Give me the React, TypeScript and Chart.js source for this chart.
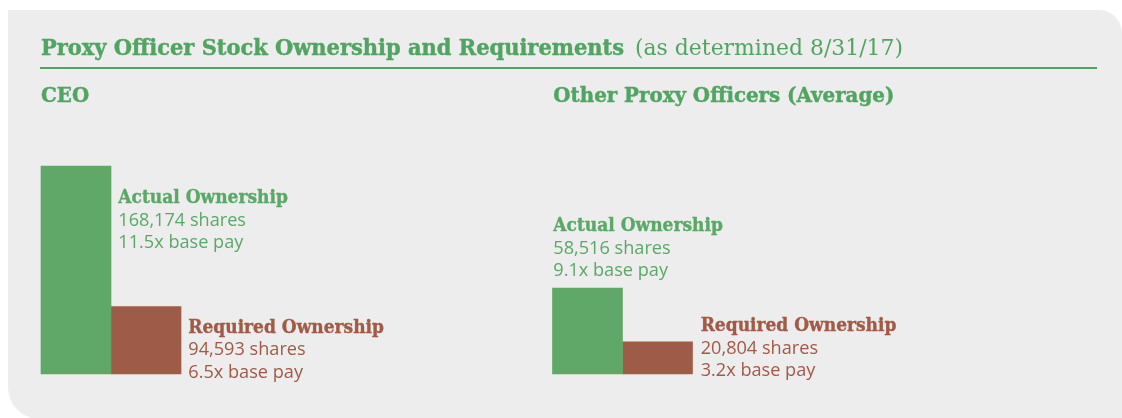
import React, { useEffect, useRef } from "react";
import { Chart, registerables } from "chart.js";

Chart.register(...registerables);

// ---- data ----
const titleBold = "Proxy Officer Stock Ownership and Requirements";
const titleNote = "(as determined 8/31/17)";
const groups = ["CEO", "Other Proxy Officers (Average)"];
const seriesNames = ["Actual Ownership", "Required Ownership"];
const actualShares = [168174, 58516];
const requiredShares = [94593, 20804];
const actualPayMultiple = ["11.5", "9.1"];
const requiredPayMultiple = ["6.5", "3.2"];
// drawn bar heights, relative to the CEO "Actual" bar (=100), as measured on the picture
const actualBarHeight = [100, 41.3];
const requiredBarHeight = [32.4, 15.5];

// ---- styles ----
const GREEN = "#60a867";
const BROWN = "#9e5b47";
const TITLE_GREEN = "#52a462";
const LABEL_GREEN = "#5aa866";
const LABEL_BROWN = "#a05a45";
const PANEL = "#ededed";
const SERIF = '"DejaVu Serif", serif';
const SANS = '"Open Sans", "Noto Sans", sans-serif';

function drawFit(
  ctx: CanvasRenderingContext2D,
  text: string,
  x: number,
  y: number,
  font: string,
  color: string,
  sx: number,
  embolden = 0
) {
  ctx.save();
  ctx.font = font;
  ctx.fillStyle = color;
  ctx.strokeStyle = color;
  ctx.textAlign = "left";
  ctx.textBaseline = "alphabetic";
  ctx.translate(x, y);
  ctx.scale(sx, 1);
  ctx.fillText(text, 0, 0);
  if (embolden > 0) {
    ctx.lineWidth = embolden;
    ctx.lineJoin = "round";
    ctx.strokeText(text, 0, 0);
  }
  ctx.restore();
}

function scaleFor(ctx: CanvasRenderingContext2D, text: string, font: string, target: number) {
  ctx.save();
  ctx.font = font;
  const w = ctx.measureText(text).width;
  ctx.restore();
  return w > 0 ? target / w : 1;
}

const fmt = (n: number) => n.toLocaleString("en-US");

const panelPlugin = {
  id: "panelPlugin",
  beforeDraw(chart: any) {
    const ctx: CanvasRenderingContext2D = chart.ctx;
    const W = chart.width;
    const H = chart.height;
    ctx.save();
    ctx.fillStyle = "#ffffff";
    ctx.fillRect(0, 0, W, H);
    // panel with rounded top-right and bottom-left corners
    const L = 8, T = 10, R = 1122, B = 419, rTR = 23, rBL = 32;
    ctx.beginPath();
    ctx.moveTo(L, T);
    ctx.lineTo(R - rTR, T);
    ctx.arcTo(R, T, R, T + rTR, rTR);
    ctx.lineTo(R, B);
    ctx.lineTo(L + rBL, B);
    ctx.arcTo(L, B, L, B - rBL, rBL);
    ctx.closePath();
    ctx.fillStyle = PANEL;
    ctx.fill();

    // title
    const tFont = `bold 21.5px ${SERIF}`;
    drawFit(ctx, titleBold, 41, 55, tFont, TITLE_GREEN, scaleFor(ctx, titleBold, tFont, 583), 0.45);
    const nFont = `21.5px ${SERIF}`;
    drawFit(ctx, titleNote, 635, 55, nFont, TITLE_GREEN, scaleFor(ctx, titleNote, nFont, 268));
    // rule
    ctx.fillStyle = TITLE_GREEN;
    ctx.fillRect(40, 67, 1057, 2);

    // group headings
    const hFont = `bold 20.8px ${SERIF}`;
    const hScale = scaleFor(ctx, groups[1], hFont, 341);
    drawFit(ctx, groups[0], 41, 101.7, hFont, TITLE_GREEN, hScale, 0.45);
    drawFit(ctx, groups[1], 553.3, 102, hFont, TITLE_GREEN, hScale, 0.45);
    ctx.restore();
  },
  afterDatasetsDraw(chart: any) {
    const ctx: CanvasRenderingContext2D = chart.ctx;
    const bFont = `bold 18.8px ${SERIF}`;
    const sFont = `18.8px ${SANS}`;
    const bScale = scaleFor(ctx, seriesNames[0], bFont, 169.5);
    const sScale = scaleFor(ctx, "168,174 shares", sFont, 127.7);
    const lh = 22.8;
    const a = chart.getDatasetMeta(0).data;
    const r = chart.getDatasetMeta(1).data;

    const block = (x: number, y: number, color: string, lines: string[]) => {
      drawFit(ctx, lines[0], x, y, bFont, color, bScale, 0.4);
      drawFit(ctx, lines[1], x, y + lh, sFont, color, sScale);
      drawFit(ctx, lines[2], x, y + 2 * lh, sFont, color, sScale);
    };
    const right = (el: any) => el.x + el.width / 2;
    const left = (el: any) => el.x - el.width / 2;

    // CEO
    block(right(a[0]) + 7.3, a[0].y + 36.7, LABEL_GREEN, [
      seriesNames[0],
      `${fmt(actualShares[0])} shares`,
      `${actualPayMultiple[0]}x base pay`,
    ]);
    block(right(r[0]) + 7.3, r[0].y + 26, LABEL_BROWN, [
      seriesNames[1],
      `${fmt(requiredShares[0])} shares`,
      `${requiredPayMultiple[0]}x base pay`,
    ]);
    // Other officers
    block(left(a[1]) + 0.8, a[1].y - 57.3, LABEL_GREEN, [
      seriesNames[0],
      `${fmt(actualShares[1])} shares`,
      `${actualPayMultiple[1]}x base pay`,
    ]);
    block(right(r[1]) + 8.2, r[1].y - 11, LABEL_BROWN, [
      seriesNames[1],
      `${fmt(requiredShares[1])} shares`,
      `${requiredPayMultiple[1]}x base pay`,
    ]);
  },
};

export default function App() {
  const ref = useRef<HTMLCanvasElement | null>(null);
  useEffect(() => {
    if (!ref.current) return;
    const chart = new Chart(ref.current, {
      type: "bar",
      data: {
        labels: groups,
        datasets: [
          {
            label: seriesNames[0],
            data: actualBarHeight,
            backgroundColor: GREEN,
            borderWidth: 0,
            barThickness: 70,
            clip: false as any,
          },
          {
            label: seriesNames[1],
            data: requiredBarHeight,
            backgroundColor: BROWN,
            borderWidth: 0,
            barThickness: 70,
            clip: false as any,
          },
        ],
      },
      options: {
        responsive: false,
        animation: false,
        devicePixelRatio: 1,
        layout: { padding: { left: 111, right: 1122 - 622.5, top: 166, bottom: 44 } },
        scales: {
          x: { type: "category", display: false, offset: false },
          y: { display: false, min: 0, max: 100 },
        },
        plugins: { legend: { display: false }, tooltip: { enabled: false } },
      },
      plugins: [panelPlugin],
    });
    return () => chart.destroy();
  }, []);
  return (
    <div style={{ position: "fixed", left: 0, top: 0, width: 1122, height: 418, overflow: "hidden" }}>
      <canvas ref={ref} width={1122} height={418} style={{ display: "block" }} />
    </div>
  );
}
